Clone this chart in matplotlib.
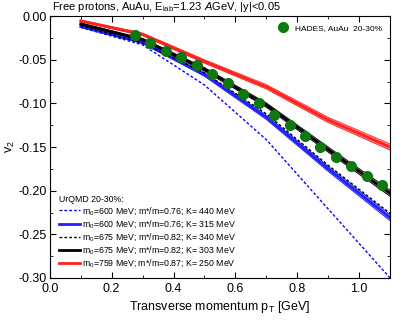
import numpy as np
import matplotlib
matplotlib.use("Agg")
import matplotlib.pyplot as plt
from matplotlib.ticker import MultipleLocator

plt.rcParams['font.family'] = ['Liberation Sans', 'DejaVu Sans']
plt.rcParams['mathtext.fontset'] = 'custom'
plt.rcParams['mathtext.rm'] = 'Liberation Sans'
plt.rcParams['mathtext.it'] = 'Liberation Sans:italic'

# HADES data
pt_data = [0.275, 0.325, 0.375, 0.425, 0.475, 0.525, 0.575, 0.625, 0.675,
           0.725, 0.775, 0.825, 0.875, 0.925, 0.975, 1.025, 1.075]
v2_data = [-0.022, -0.031, -0.040, -0.047, -0.056, -0.066, -0.077, -0.089,
           -0.100, -0.113, -0.125, -0.1375, -0.150, -0.161, -0.172, -0.183, -0.193]
v2_err = [0.002] * len(pt_data)

# UrQMD curves
pt_model = [0.1, 0.3, 0.5, 0.7, 0.9, 1.1]
v2_k440_600 = [-0.013, -0.033, -0.079, -0.1416, -0.221, -0.300]
v2_k315_600 = [-0.012, -0.030, -0.067, -0.116, -0.175, -0.231]
v2_k340_675 = [-0.011, -0.031, -0.065, -0.112, -0.171, -0.226]
v2_k303_675 = [-0.009, -0.027, -0.061, -0.102, -0.153, -0.203]
v2_k250_759 = [-0.0055, -0.021, -0.052, -0.081, -0.119, -0.150]
band_w = [0.001, 0.0015, 0.002, 0.0025, 0.003, 0.0035]

labels = ["m$_0$=600 MeV; m*/m=0.76; K= 440 MeV",
          "m$_0$=600 MeV; m*/m=0.76; K= 315 MeV",
          "m$_0$=675 MeV; m*/m=0.82; K= 340 MeV",
          "m$_0$=675 MeV; m*/m=0.82; K= 303 MeV",
          "m$_0$=759 MeV; m*/m=0.87; K= 250 MeV"]

fig = plt.figure(figsize=(4.15, 3.21), dpi=100)
ax = fig.add_axes([0.12, 0.134, 0.82, 0.816])

pt = np.array(pt_model)
w = np.array(band_w)
# bands for solid curves
for v, c, fc in [(v2_k315_600, "#2020ff", "#9090ff"),
                 (v2_k303_675, "black", "#909090"),
                 (v2_k250_759, "#ff2020", "#ff9090")]:
    v = np.array(v)
    ax.fill_between(pt, v - w, v + w, color=fc, lw=0, zorder=2)
    ax.plot(pt, v - w, color=c, lw=0.6, zorder=2)
    ax.plot(pt, v + w, color=c, lw=0.6, zorder=2)

h1, = ax.plot(pt, v2_k440_600, color="blue", ls=(0, (2, 1.5)), lw=1.0, zorder=3)
h2, = ax.plot(pt, v2_k315_600, color="#2020ff", lw=2.0, zorder=3)
h3, = ax.plot(pt, v2_k340_675, color="black", ls=(0, (2, 1.5)), lw=1.0, zorder=3)
h4, = ax.plot(pt, v2_k303_675, color="black", lw=2.0, zorder=3)
h5, = ax.plot(pt, v2_k250_759, color="#ff2020", lw=2.0, zorder=3)

hd = ax.errorbar(pt_data, v2_data, yerr=v2_err, fmt="o", color="#117711",
                 ms=7, elinewidth=1, capsize=0, zorder=5)

ax.set_xlim(0.0, 1.1)
ax.set_ylim(-0.30, 0.0)
ax.xaxis.set_major_locator(MultipleLocator(0.2))
ax.xaxis.set_minor_locator(MultipleLocator(0.1))
ax.yaxis.set_minor_locator(MultipleLocator(0.025))
ax.set_yticks(np.arange(-0.30, 0.001, 0.05))
ax.set_yticklabels(["-0.30", "-0.25", "-0.20", "-0.15", "-0.10", "-0.05", "0.00"])
ax.tick_params(which="both", direction="in", top=True, right=True, labelsize=9)
ax.tick_params(which="major", length=4)
ax.tick_params(which="minor", length=2)
ax.tick_params(axis="y", pad=2)

ax.set_xlabel("Transverse momentum p$_\\mathrm{T}$ [GeV]", fontsize=9, labelpad=3)
ax.set_ylabel("v$_\\mathrm{2}$", fontsize=9, labelpad=1)
ax.text(0.005, 1.008, "Free protons, AuAu, E$_\\mathrm{lab}$=1.23 $A$GeV, |y|<0.05",
        fontsize=8, ha="left", va="bottom", transform=ax.transAxes)

leg1 = ax.legend([h1, h2, h3, h4, h5], labels, loc="lower left", fontsize=6.3,
                 title="UrQMD 20-30%:", title_fontsize=6.3, frameon=False,
                 handlelength=2.4, handletextpad=0.3, labelspacing=0.12,
                 borderaxespad=0.6)
leg1._legend_box.align = "left"
ax.add_artist(leg1)
ax.legend([hd], ["HADES, AuAu  20-30%"], loc="upper right", fontsize=6.0,
          frameon=False, handletextpad=0.4, borderaxespad=0.6)

fig.savefig("out.png", dpi=100)
